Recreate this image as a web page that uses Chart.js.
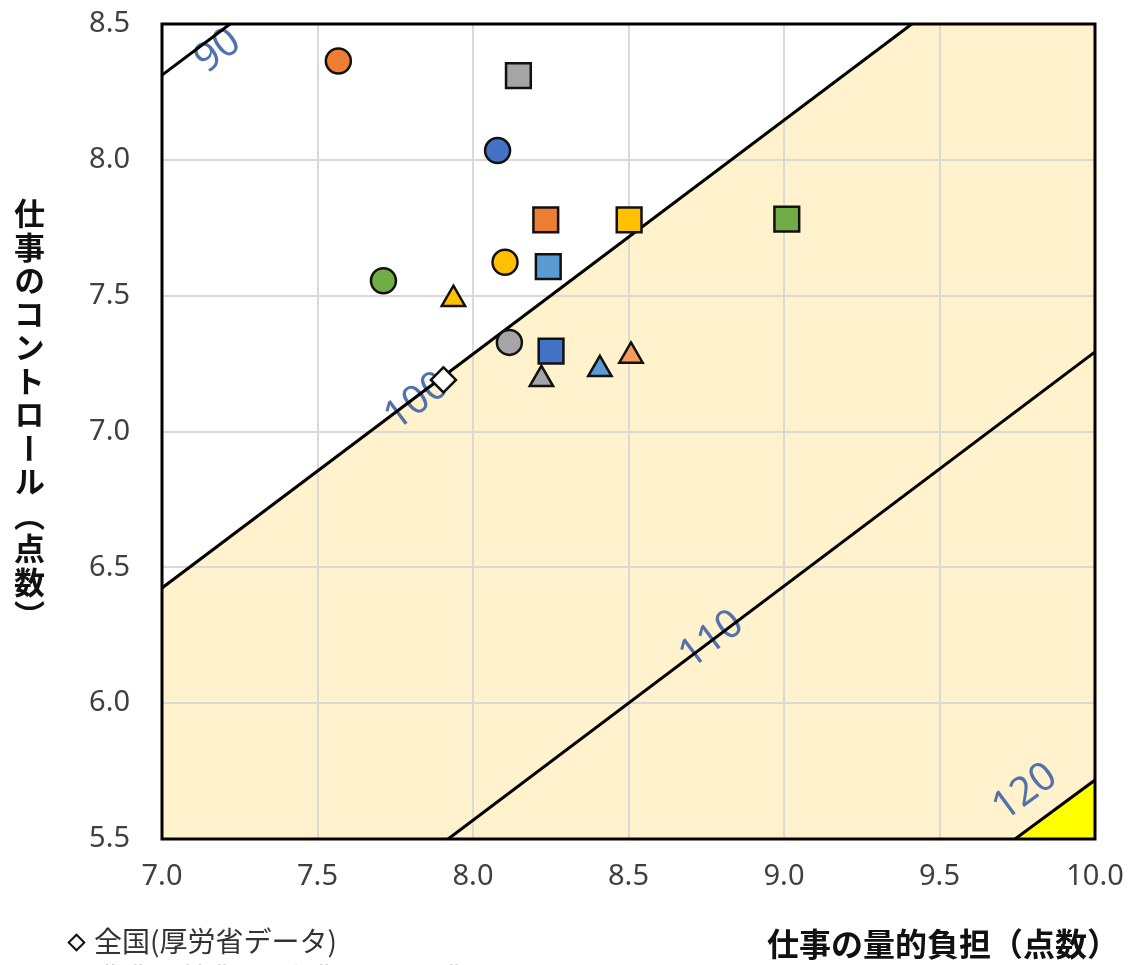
<!DOCTYPE html>
<html lang="ja">
<head>
<meta charset="utf-8">
<script src="https://cdn.jsdelivr.net/npm/chart.js@4.4.1/dist/chart.umd.min.js"></script>
<style>
  html, body { margin: 0; padding: 0; background: #fff; overflow: hidden; }
  #wrap { position: relative; width: 1133px; height: 965px; }
  #myChart { position: absolute; left: 0; top: 0; }
  .ytitle { position: absolute; left: 14px; top: 198px; writing-mode: vertical-rl; font: 700 31px "Noto Sans CJK JP"; line-height: 1; letter-spacing: 2.5px; color: #111; }
  .xtitle { position: absolute; right: 14px; top: 926px; font: 700 32px "Noto Sans CJK JP"; line-height: 1; color: #111; white-space: nowrap; }
  .legend { position: absolute; left: 64px; top: 922px; font: 400 28px "Noto Sans CJK JP"; color: #333; line-height: 37px; white-space: nowrap; }
  .dia { display: inline-block; width: 9px; height: 9px; border: 2.5px solid #111; transform: rotate(45deg); margin: 0 11px 3px 6px; vertical-align: middle; }
  .dot { display: inline-block; width: 16px; height: 16px; border: 2px solid #111; border-radius: 50%; margin: 0 8px 0 18px; vertical-align: middle; }
</style>
</head>
<body>
<div id="wrap">
  <canvas id="myChart" width="1133" height="965"></canvas>
  <div class="ytitle">仕事のコントロール（点数）</div>
  <div class="xtitle">仕事の量的負担（点数）</div>
  <div class="legend">
    <div><span class="dia"></span>全国(厚労省データ)</div>
    <div><span class="dot" style="background:#4472C4;margin-left:4px"></span>農業、林業<span class="dot" style="background:#ED7D31"></span>漁業<span class="dot" style="background:#A5A5A5"></span>建設業</div>
  </div>
</div>
<script>
// contour lines (health risk), two ends each
let contourLabels = ["90", "100", "110", "120"],
  contourX = [[7.0, 7.219], [7.0, 9.411], [7.92, 10.0], [9.743, 10.0]],
  contourY = [[8.312, 8.5], [6.424, 8.5], [5.5, 7.293], [5.5, 5.717]],
  labelX = [7.18, 7.819, 8.767, 9.775],
  labelY = [8.40, 7.11, 6.233, 5.672];

// markers
let circleX = [7.567, 8.079, 7.712, 8.103, 8.117],
  circleY = [8.364, 8.034, 7.555, 7.623, 7.328],
  circleColors = ["#ED7D31", "#4472C4", "#70AD47", "#FFC000", "#A5A5A5"];
let squareX = [8.146, 8.234, 8.502, 9.009, 8.242, 8.251],
  squareY = [8.31, 7.779, 7.779, 7.782, 7.607, 7.296],
  squareColors = ["#A5A5A5", "#ED7D31", "#FFC000", "#70AD47", "#5B9BD5", "#4472C4"];
let triangleX = [7.937, 8.508, 8.408, 8.22],
  triangleY = [7.487, 7.278, 7.229, 7.192],
  triangleColors = ["#FFC000", "#F39A5E", "#5B9BD5", "#A5A5A5"];
let nationalX = [7.905],
  nationalY = [7.19];

let xTicks = [7.0, 7.5, 8.0, 8.5, 9.0, 9.5, 10.0],
  yTicks = [5.5, 6.0, 6.5, 7.0, 7.5, 8.0, 8.5];

function toPoints(xs, ys) {
  return xs.map((v, i) => ({ x: v, y: ys[i] }));
}

// fill areas follow the 100 and 120 lines
let fill100 = toPoints(contourX[1], contourY[1]).concat([{ x: xTicks[xTicks.length - 1], y: yTicks[yTicks.length - 1] }]);
let fill120 = toPoints(contourX[3], contourY[3]);

let datasets = [
  { type: "line", data: fill100, fill: "start", backgroundColor: "#FFF2CC", borderWidth: 0, pointRadius: 0, order: 20 },
  { type: "line", data: fill120, fill: "start", backgroundColor: "#FFFF00", borderWidth: 0, pointRadius: 0, order: 19 },
];
contourLabels.forEach((t, i) => {
  datasets.push({
    type: "line", label: t, data: toPoints(contourX[i], contourY[i]),
    borderColor: "#000", borderWidth: 3, pointRadius: 0, fill: false, order: 10,
  });
});
datasets.push(
  { label: "circle", data: toPoints(circleX, circleY), pointStyle: "circle", pointRadius: 12.5, backgroundColor: circleColors, borderColor: "#111", borderWidth: 2.5, order: 1 },
  { label: "square", data: toPoints(squareX, squareY), pointStyle: "rect", pointRadius: 17.5, backgroundColor: squareColors, borderColor: "#111", borderWidth: 2.5, order: 1 },
  { label: "triangle", data: toPoints(triangleX, triangleY), pointStyle: "triangle", pointRadius: 13.5, backgroundColor: triangleColors, borderColor: "#111", borderWidth: 2.5, order: 1 },
  { label: "全国(厚労省データ)", data: toPoints(nationalX, nationalY), pointStyle: "rectRot", pointRadius: 12.5, backgroundColor: "#fff", borderColor: "#111", borderWidth: 2.5, order: 0 }
);

let contourPlugin = {
  id: "contourLabels",
  beforeDatasetsDraw(chart) {
    let { ctx, chartArea, scales } = chart;
    ctx.save();
    ctx.beginPath();
    ctx.rect(chartArea.left, chartArea.top, chartArea.width, chartArea.height);
    ctx.clip();
    ctx.font = '40px "Noto Sans"';
    ctx.fillStyle = "#5272AA";
    ctx.textAlign = "center";
    ctx.textBaseline = "middle";
    contourLabels.forEach((t, i) => {
      let dx = scales.x.getPixelForValue(contourX[i][1]) - scales.x.getPixelForValue(contourX[i][0]);
      let dy = scales.y.getPixelForValue(contourY[i][1]) - scales.y.getPixelForValue(contourY[i][0]);
      ctx.save();
      ctx.translate(scales.x.getPixelForValue(labelX[i]), scales.y.getPixelForValue(labelY[i]));
      ctx.rotate(Math.atan2(dy, dx));
      ctx.fillText(t, 0, 0);
      ctx.restore();
    });
    ctx.restore();
  },
  afterDatasetsDraw(chart) {
    let { ctx, chartArea } = chart;
    ctx.save();
    ctx.strokeStyle = "#000";
    ctx.lineWidth = 3;
    ctx.strokeRect(chartArea.left, chartArea.top, chartArea.width, chartArea.height);
    ctx.restore();
  },
};

let ctx = document.getElementById("myChart").getContext("2d");
let myChart = new Chart(ctx, {
  type: "scatter",
  data: { datasets: datasets },
  plugins: [contourPlugin],
  options: {
    responsive: false,
    devicePixelRatio: 1,
    animation: false,
    layout: { padding: { top: 24, right: 38, bottom: 0, left: 0 } },
    plugins: {
      legend: { display: false },
      tooltip: { enabled: false },
      filler: { drawTime: "beforeDraw" },
    },
    scales: {
      x: {
        type: "linear",
        min: xTicks[0],
        max: xTicks[xTicks.length - 1],
        afterBuildTicks: (s) => { s.ticks = xTicks.map((v) => ({ value: v })); },
        afterFit: (s) => { s.height = 126; s.paddingLeft = 0; s.paddingRight = 0; },
        ticks: { callback: (v) => v.toFixed(1), font: { family: "Noto Sans", size: 29 }, color: "#404040", padding: 20, maxRotation: 0 },
        grid: { color: "#D9D9D9", lineWidth: 2, drawTicks: false },
        border: { display: false },
      },
      y: {
        type: "linear",
        min: yTicks[0],
        max: yTicks[yTicks.length - 1],
        afterBuildTicks: (s) => { s.ticks = yTicks.map((v) => ({ value: v })); },
        afterFit: (s) => { s.width = 162; s.paddingTop = 0; s.paddingBottom = 0; },
        ticks: { callback: (v) => v.toFixed(1), font: { family: "Noto Sans", size: 29 }, color: "#404040", padding: 32 },
        grid: { color: "#D9D9D9", lineWidth: 2, drawTicks: false },
        border: { display: false },
      },
    },
  },
});
</script>
</body>
</html>
